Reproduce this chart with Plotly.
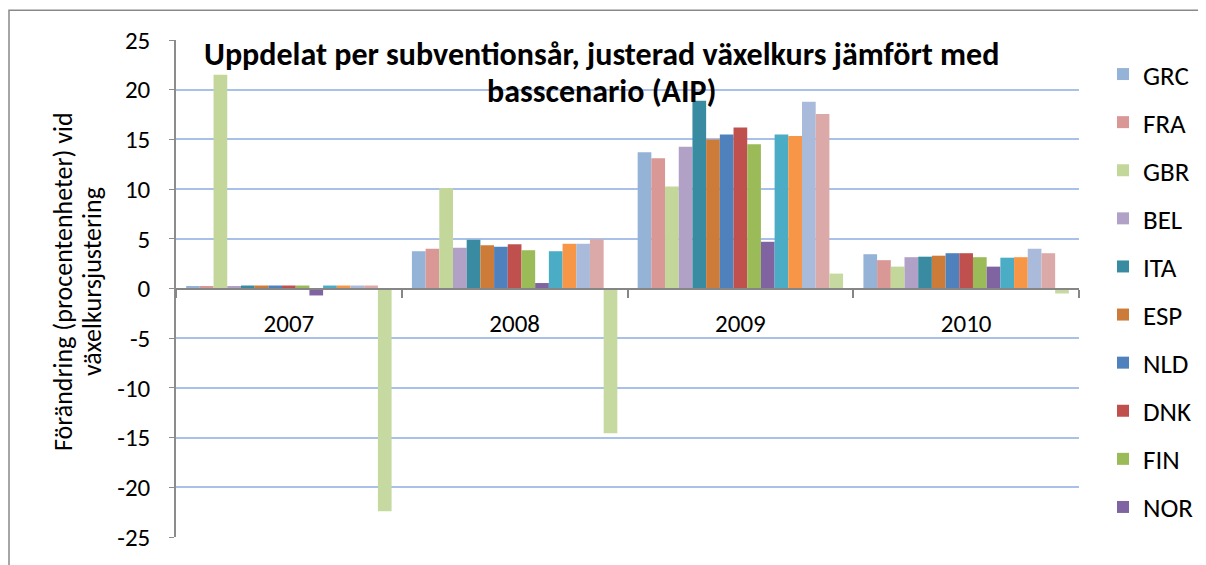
import plotly.graph_objects as go

years = ["2007", "2008", "2009", "2010"]

# first ten series are visible in the legend, the last five are cut off in the original
countries = ["GRC", "FRA", "GBR", "BEL", "ITA", "ESP", "NLD", "DNK", "FIN", "NOR",
             "SWE", "PRT", "AUT", "DEU", "IRL"]

GRC = [0.25, 3.75, 13.7, 3.45]
FRA = [0.25, 4.0, 13.1, 2.85]
GBR = [21.5, 10.1, 10.25, 2.2]
BEL = [0.25, 4.1, 14.25, 3.15]
ITA = [0.3, 4.9, 18.9, 3.2]
ESP = [0.3, 4.35, 15.0, 3.3]
NLD = [0.3, 4.2, 15.5, 3.55]
DNK = [0.3, 4.45, 16.2, 3.55]
FIN = [0.3, 3.85, 14.5, 3.15]
NOR = [-0.7, 0.55, 4.7, 2.2]
SWE = [0.3, 3.75, 15.5, 3.1]
PRT = [0.3, 4.5, 15.35, 3.15]
AUT = [0.3, 4.5, 18.8, 4.0]
DEU = [0.3, 4.95, 17.55, 3.55]
IRL = [-22.4, -14.55, 1.5, -0.5]

series = [GRC, FRA, GBR, BEL, ITA, ESP, NLD, DNK, FIN, NOR, SWE, PRT, AUT, DEU, IRL]

y_ticks = [25, 20, 15, 10, 5, 0, -5, -10, -15, -20, -25]
y_tick_labels = ["25", "20", "15", "10", "5", "0", "-5", "-10", "-15", "-20", "-25"]

colors = ["#95B3D7", "#D99795", "#C4D79B", "#B2A1C7", "#388BA1", "#CC7B38",
          "#4F81BD", "#C0504D", "#9BBB59", "#8064A2", "#4BACC6", "#F79646",
          "#AABADA", "#DAA9A8", "#C6D9A0"]

FONT = "Carlito, Lato, sans-serif"

# page has an 8px body margin, so the figure is drawn 8px smaller and offset
W, H = 1198, 557
L, T = 168, 32          # plot area starts at x=176, y=40 on the page
PW, PH = 903, 503


def px(x):
    return (x - 176) / PW


def py(y):
    return (543 - y) / PH


fig = go.Figure()
for i, (name, vals) in enumerate(zip(countries, series)):
    fig.add_trace(go.Bar(
        x=years, y=vals, name=name,
        marker=dict(color=colors[i], line=dict(width=0)),
        legendgroup=name,
        showlegend=i < 10,
    ))

fig.update_layout(
    width=W, height=H,
    margin=dict(l=L, r=W - L - PW, t=T, b=H - T - PH),
    paper_bgcolor="white", plot_bgcolor="white",
    barmode="group", bargap=0.09, bargroupgap=0,
    font=dict(family=FONT, color="black"),
    legend=dict(
        xref="container", yref="container",
        x=1095 / W, y=1 - 42 / H, xanchor="left", yanchor="top",
        font=dict(size=27, family=FONT),
        tracegroupgap=10, itemwidth=30, maxheight=600,
        bgcolor="rgba(0,0,0,0)",
    ),
    xaxis=dict(
        type="category",
        anchor="free", position=0.5,
        showline=True, linecolor="#868686", linewidth=2,
        ticks="outside", tickson="boundaries", ticklen=8,
        tickcolor="#868686", tickwidth=2,
        ticklabelstandoff=12,
        tickfont=dict(size=25, family=FONT),
        showgrid=False,
    ),
    yaxis=dict(
        range=[-25, 25],
        tickmode="array", tickvals=y_ticks, ticktext=y_tick_labels,
        showline=True, linecolor="#8C8C8C", linewidth=1.5,
        ticks="outside", ticklen=5, tickcolor="#8C8C8C",
        ticklabelstandoff=14,
        tickfont=dict(size=25, family=FONT),
        showgrid=True, gridcolor="#A9C1E8", gridwidth=1.5,
        zeroline=False,
    ),
)

# chart title, drawn over the plot like the original
fig.add_annotation(
    text="<b>Uppdelat per subventionsår, justerad växelkurs jämfört med</b>",
    xref="paper", yref="paper", x=px(601), y=py(55),
    showarrow=False, xanchor="center", yanchor="middle",
    font=dict(size=32, family=FONT, color="black"),
)
fig.add_annotation(
    text="<b>basscenario (AIP)</b>",
    xref="paper", yref="paper", x=px(602), y=py(92),
    showarrow=False, xanchor="center", yanchor="middle",
    font=dict(size=32, family=FONT, color="black"),
)

# y axis title, one annotation per line to keep the tight line spacing
for text, xpos in [("Förändring (procentenheter) vid", 63), ("växelkursjustering", 92)]:
    fig.add_annotation(
        text=text,
        xref="paper", yref="paper", x=px(xpos), y=py(285),
        showarrow=False, xanchor="center", yanchor="middle", textangle=-90,
        font=dict(size=26, family=FONT, color="black"),
    )

# outer chart border
fig.add_shape(
    type="rect", xref="paper", yref="paper",
    x0=px(9), x1=px(1215), y0=py(575), y1=py(10),
    line=dict(color="#898989", width=1.5), fillcolor="rgba(0,0,0,0)",
    layer="below",
)

fig.write_html("out.html")
